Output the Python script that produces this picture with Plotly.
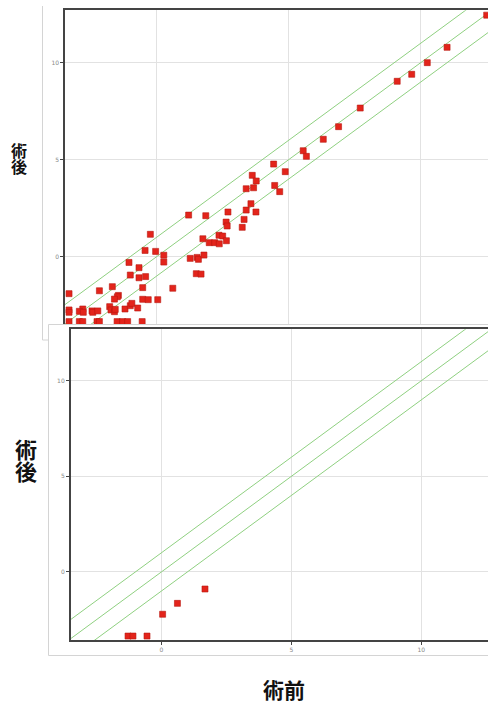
import plotly.graph_objects as go

# ---------------- data ----------------
top_x = [12.50, 11.00, 10.25, 9.66, 9.11, 7.71, 6.89, 6.31, 5.55, 5.67,
         4.43, 4.87, 3.62, 3.77, 3.39, 3.67, 4.47, 4.66, 3.57, 3.39,
         3.76, 3.31, 3.24, 2.70, 2.63, 2.67, 1.21, 1.86, 1.75, 2.36,
         2.50, 2.64, 1.99, 2.20, 2.37, 1.27, 1.53, 1.58, 1.79, 1.50,
         1.68, 0.61, 0.04, -0.04, 0.27, 0.27, -0.24, -0.44, -1.05, -0.67,
         -1.00, -0.42, -0.67, -0.53, -1.68, -2.17, -1.45, -1.49, -1.60, -0.53,
         -0.32, -1.78, -1.73, -1.60, -1.57, -1.20, -1.00, -0.94, -0.72, -2.80,
         -2.93, -2.78, -2.45, -2.42, -2.23, -3.32, -3.32, -3.32, -3.32, -2.93,
         -2.80, -2.26, -2.17, -1.50, -1.29, -1.10, -0.55]
top_y = [12.45, 10.79, 10.00, 9.40, 9.04, 7.66, 6.70, 6.05, 5.46, 5.17,
         4.77, 4.38, 4.19, 3.90, 3.50, 3.55, 3.67, 3.35, 2.73, 2.40,
         2.30, 1.92, 1.51, 2.30, 1.78, 1.58, 2.14, 2.11, 0.92, 1.10,
         1.06, 0.82, 0.72, 0.72, 0.66, -0.09, -0.04, -0.14, 0.08, -0.88,
         -0.90, -1.63, -2.22, 0.27, 0.07, -0.28, 1.15, 0.32, -0.30, -0.57,
         -0.95, -1.03, -1.09, -1.60, -1.55, -1.76, -2.00, -2.07, -2.19, -2.20,
         -2.22, -2.58, -2.75, -2.84, -2.72, -2.70, -2.53, -2.41, -2.65, -2.70,
         -2.82, -2.87, -2.80, -2.87, -2.80, -1.91, -2.75, -2.87, -3.35, -3.35,
         -3.35, -3.35, -3.35, -3.35, -3.35, -3.35, -3.35]

bottom_x = [-1.28, -1.09, -0.55, 0.05, 0.62, 1.68]
bottom_y = [-3.35, -3.35, -3.35, -2.21, -1.64, -0.89]

diag_offsets = [1, 0, -1]          # y = x + offset
diag_span = [-5, 15]

y_title = "術後"
x_title = "術前"
tick_vals = [-5, 0, 5, 10]
tick_text = ["-5", "0", "5", "10"]

# ---------------- layout helpers ----------------
W, H = 488, 703
def px(x):
    return x / W
def py(y):
    return 1 - y / H

RED = "#e3241b"
GREEN = "#8fd080"
GRID = "#e2e2e2"
AXIS = "#444444"
FRAME = "#d4d4d4"

fig = go.Figure()

for sub, (xa, ya) in enumerate([("x", "y"), ("x2", "y2")]):
    for off in diag_offsets:
        fig.add_trace(go.Scatter(
            x=diag_span, y=[v + off for v in diag_span], xaxis=xa, yaxis=ya,
            mode="lines", line=dict(color=GREEN, width=1), hoverinfo="skip",
            showlegend=False))

marker = dict(symbol="square", size=6, color=RED,
              line=dict(color="#b8180f", width=0.6))
fig.add_trace(go.Scatter(x=top_x, y=top_y, xaxis="x", yaxis="y",
                         mode="markers", marker=marker, showlegend=False))
fig.add_trace(go.Scatter(x=bottom_x, y=bottom_y, xaxis="x2", yaxis="y2",
                         mode="markers", marker=marker, showlegend=False))

tickfont = dict(size=6, color="#888888", family="DejaVu Sans")
common = dict(showgrid=True, gridcolor=GRID, gridwidth=1, zeroline=False,
              tickvals=tick_vals, ticktext=tick_text, tickfont=tickfont,
              linecolor=AXIS, linewidth=1.5)

fig.update_layout(
    width=W, height=H, autosize=False,
    margin=dict(l=0, r=0, t=0, b=0),
    paper_bgcolor="white", plot_bgcolor="white",
    xaxis=dict(domain=[px(65), 1.0], range=[-3.473, 12.55], anchor="y",
               side="top", showline=True, showticklabels=False, ticks="",
               **common),
    yaxis=dict(domain=[py(324), py(10.3)], range=[-3.474, 12.70], anchor="x",
               showline=True, ticks="outside", ticklen=3, tickcolor=AXIS,
               tickwidth=1, **common),
    xaxis2=dict(domain=[px(70.7), 1.0], range=[-3.485, 12.565], anchor="y2",
                showline=True, mirror=True, ticks="outside", ticklen=3,
                tickcolor=AXIS, tickwidth=1, **common),
    yaxis2=dict(domain=[py(640), py(329.3)], range=[-3.556, 12.69], anchor="x2",
                showline=True, ticks="outside", ticklen=3, tickcolor=AXIS,
                tickwidth=1, **common),
)

# frames of the two screenshots
shapes = [
    dict(type="line", xref="paper", yref="paper", x0=px(42.5), x1=px(42.5),
         y0=py(6), y1=py(340), line=dict(color=FRAME, width=1), layer="above"),
    dict(type="line", xref="paper", yref="paper", x0=px(42.5), x1=px(48.5),
         y0=py(340), y1=py(340), line=dict(color=FRAME, width=1), layer="above"),
    dict(type="rect", xref="paper", yref="paper", x0=px(48.5), x1=px(500),
         y0=py(655.5), y1=py(324.5), line=dict(color=FRAME, width=1),
         fillcolor="rgba(0,0,0,0)", layer="above"),
]
fig.update_layout(shapes=shapes)

cjk = "Noto Sans CJK JP"
def label(ch, x, y, size):
    fig.add_annotation(text="<b>%s</b>" % ch, x=px(x), y=py(y), xref="paper",
                       yref="paper", showarrow=False, xanchor="center",
                       yanchor="middle", borderpad=0,
                       font=dict(size=size, color="#111111", family=cjk))

label(y_title[0], 18.5, 150, 16)
label(y_title[1], 18.5, 165.5, 16)
label(y_title[0], 26, 447.5, 22)
label(y_title[1], 26, 470, 22)
label(x_title, 283.5, 689, 21)

fig.write_html("out.html", config={"displayModeBar": False},
               post_script="document.body.style.margin='0';document.body.style.overflow='hidden';")
